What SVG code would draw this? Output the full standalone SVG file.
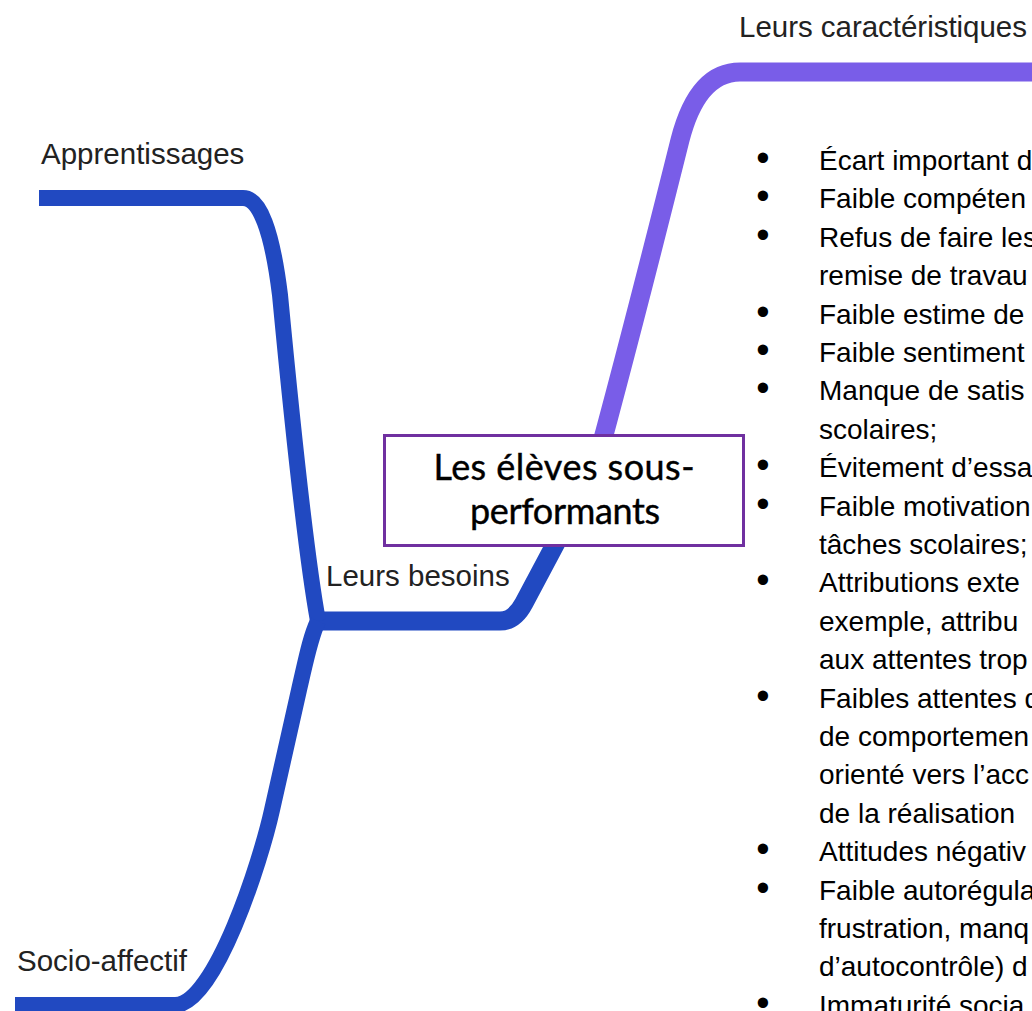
<svg xmlns="http://www.w3.org/2000/svg" width="1032" height="1011" viewBox="0 0 1032 1011">
<style>
.br{fill:none;stroke-linecap:butt;stroke-linejoin:round}
.blue{stroke:#2149C1}
.purple{stroke:#795DE8}
.main{stroke-width:19}
.sub{stroke-width:16}
.lbl{font-family:"Liberation Sans",Arial,sans-serif;font-size:29.5px;fill:#222}
.ctr{font-family:Lato,"Liberation Sans",sans-serif;font-size:36px;font-weight:400;fill:#000;text-anchor:middle;stroke:#000;stroke-width:0.4}
.li{font-family:"Liberation Sans",Arial,sans-serif;font-size:28px;fill:#000}
.bu{font-family:"Liberation Sans",Arial,sans-serif;font-size:38px;fill:#000;text-anchor:middle}
</style>
<rect width="1032" height="1011" fill="#fff"/>
<g id="connectors">
<path class="br purple main" d="M 578 530 C 620 380 660 220 680 140 Q 697.5 72 740 72 L 1040 72"/>
<path class="br blue main" d="M 575 507 L 524 603 Q 514.5 621 500 621 L 318 621"/>
<path class="br blue sub" d="M 318 621 C 306 555 290 400 280 295 Q 268 198 243 198 L 39 198"/>
<path class="br blue sub" d="M 318 621 C 310 638 306 660 299 690 L 272 810 C 261 860 215 1005 175 1005 L 15 1005"/>
</g>
<g id="center">
<rect x="384.5" y="435.5" width="359" height="110" fill="#fff" stroke="#7030A0" stroke-width="3"/>
<text class="ctr" x="564" y="480" textLength="261">Les élèves sous-</text>
<text class="ctr" x="565" y="524" textLength="190">performants</text>
</g>
<g id="caracteristiques">
<text class="lbl" x="739" y="37" textLength="288">Leurs caractéristiques</text>
<g id="liste">
<text class="bu" x="763" y="171">•</text>
<text class="bu" x="763" y="209.4">•</text>
<text class="bu" x="763" y="247.8">•</text>
<text class="bu" x="763" y="324.6">•</text>
<text class="bu" x="763" y="363">•</text>
<text class="bu" x="763" y="401.4">•</text>
<text class="bu" x="763" y="478.2">•</text>
<text class="bu" x="763" y="516.6">•</text>
<text class="bu" x="763" y="593.4">•</text>
<text class="bu" x="763" y="708.6">•</text>
<text class="bu" x="763" y="862.2">•</text>
<text class="bu" x="763" y="900.6">•</text>
<text class="bu" x="763" y="1015.8">•</text>
<text class="li" x="819" y="170">Écart important d</text>
<text class="li" x="819" y="208.4">Faible compéten</text>
<text class="li" x="819" y="246.8">Refus de faire les</text>
<text class="li" x="819" y="285.2">remise de travau</text>
<text class="li" x="819" y="323.6">Faible estime de</text>
<text class="li" x="819" y="362">Faible sentiment</text>
<text class="li" x="819" y="400.4">Manque de satis</text>
<text class="li" x="819" y="438.8">scolaires;</text>
<text class="li" x="819" y="477.2">Évitement d’essa</text>
<text class="li" x="819" y="515.6">Faible motivation</text>
<text class="li" x="819" y="554">tâches scolaires;</text>
<text class="li" x="819" y="592.4">Attributions exte</text>
<text class="li" x="819" y="630.8">exemple, attribu</text>
<text class="li" x="819" y="669.2">aux attentes trop</text>
<text class="li" x="819" y="707.6">Faibles attentes d</text>
<text class="li" x="819" y="746">de comportemen</text>
<text class="li" x="819" y="784.4">orienté vers l’acc</text>
<text class="li" x="819" y="822.8">de la réalisation</text>
<text class="li" x="819" y="861.2">Attitudes négativ</text>
<text class="li" x="819" y="899.6">Faible autorégula</text>
<text class="li" x="819" y="938">frustration, manq</text>
<text class="li" x="819" y="976.4">d’autocontrôle) d</text>
<text class="li" x="819" y="1014.8">Immaturité socia</text>
</g>
</g>
<g id="besoins">
<text class="lbl" x="326" y="586">Leurs besoins</text>
</g>
<g id="apprentissages">
<text class="lbl" x="41" y="164">Apprentissages</text>
</g>
<g id="socio-affectif">
<text class="lbl" x="17" y="971">Socio-affectif</text>
</g>
</svg>
